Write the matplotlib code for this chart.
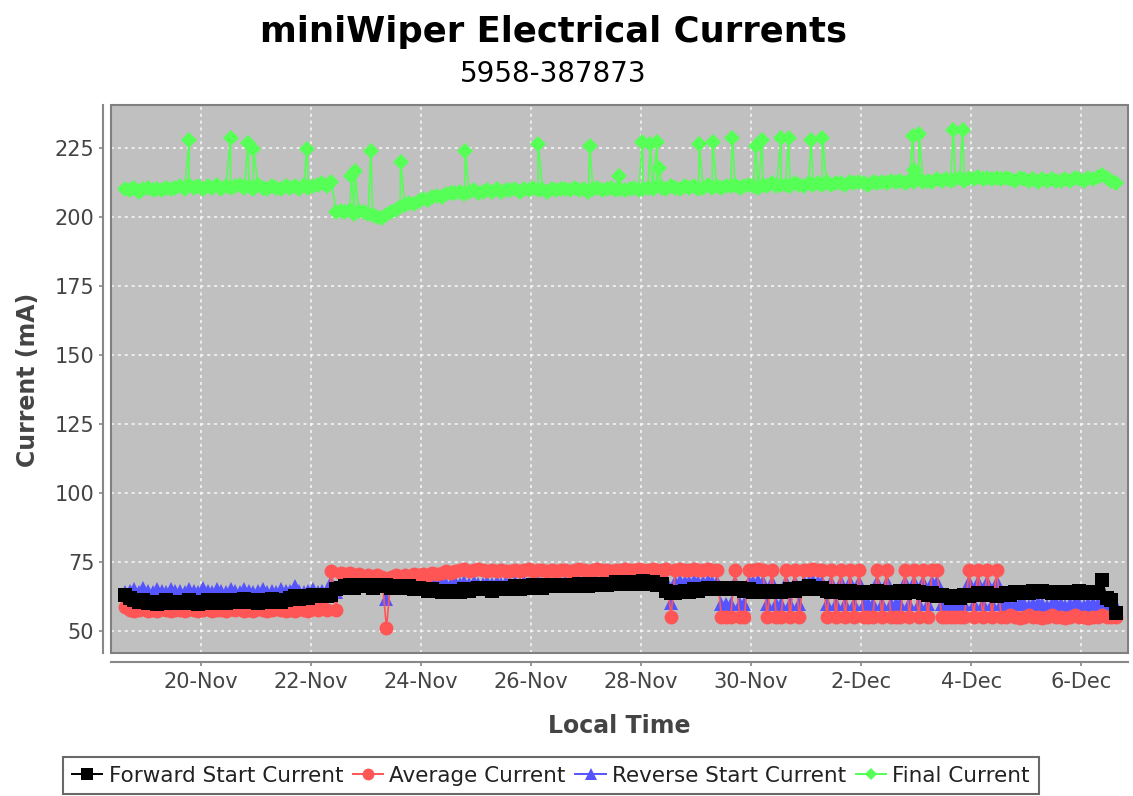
import matplotlib
matplotlib.use("Agg")
import matplotlib.pyplot as plt
from matplotlib.patches import Rectangle
from matplotlib.lines import Line2D
from matplotlib.ticker import FuncFormatter
import matplotlib.dates as mdates
import pandas as pd

# readings every 2 hours from Nov 18 15:00, twelve per row (one day per row)
start = "2019-11-18 15:00"
n_points = 217

forward_start = [
    63, 62, 61, 60.5, 61, 60, 60.5, 59.5, 60, 61, 60, 60.5,
    60.5, 60, 61, 60.5, 59.5, 60.5, 61, 60, 60.5, 61, 60, 60.5,
    61, 60.5, 61.5, 60.5, 61, 60, 61, 60.5, 61.5, 61, 60.5, 61,
    62, 62.5, 61.5, 62.5, 62, 63, 62.5, 63, 62.5, 63, 65, 65.5,
    66, 66.5, 65.5, 66, 66.5, 66, 65.5, 66.5, 66, 66.5, 65.5, 66,
    66, 65.5, 66, 65, 65.5, 65, 64.5, 65, 64.5, 64, 64.5, 64,
    64.5, 64, 65, 64.5, 65, 65.5, 65, 65.5, 64.5, 65, 65.5, 65,
    65.5, 66, 65, 66, 65.5, 66.5, 66, 65.5, 66.5, 66, 66.5, 66,
    66, 66.5, 66, 67, 66.5, 66, 67, 66.5, 67, 66.5, 67, 67.5,
    67, 67.5, 67, 67.5, 67, 68, 67, 67.5, 66.5, 67, 64.5, 63.5,
    63.5, 64, 64.5, 64, 65, 64.5, 65, 65.5, 65, 65.5, 65, 65.5,
    65.5, 65, 65.5, 64.5, 65, 64, 64.5, 64, 64.5, 64, 64.5, 64,
    64.5, 65, 64.5, 65.5, 65, 66, 65.5, 65, 65.5, 64.5, 64, 64.5,
    64, 63.5, 64.5, 64, 63.5, 64, 63.5, 64, 64.5, 63.5, 64, 63.5,
    64, 64.5, 63.5, 64, 64.5, 64, 63.5, 63, 63.5, 62.5, 63, 62.5,
    62, 62.5, 62, 63, 62.5, 63, 63.5, 63, 63.5, 63, 62.5, 63,
    63.5, 63, 64, 63.5, 64, 63.5, 64.5, 64, 64.5, 64, 63.5, 64,
    64, 63.5, 64, 63.5, 64.5, 63.5, 64, 63.5, 64, 68.5, 62, 61,
    56.5,
]

average = [
    58.5, 57.5, 57, 57.5, 58, 57, 57.5, 57, 58, 57.5, 57, 57.5,
    57.5, 57, 58, 57.5, 57, 57.5, 58, 57, 57.5, 57.5, 57, 58,
    57.5, 58, 57, 57.5, 57, 58, 57.5, 57, 57.5, 58, 57.5, 57,
    57.5, 57, 58, 57.5, 57, 58, 57.5, 58.5, 57.5, 71.5, 57.5, 71,
    70.5, 71, 70, 70.5, 69.5, 70, 69.5, 70, 69.5, 51, 69.5, 70,
    69.5, 70, 69.5, 70.5, 70, 70.5, 70, 71, 70.5, 71, 71.5, 71,
    71.5, 72, 72.5, 71.5, 72, 72.5, 72, 71.5, 72, 71.5, 72, 71.5,
    71.5, 72, 71.5, 72, 72.5, 71.5, 72, 72, 71.5, 72, 71.5, 72,
    72, 71.5, 72, 72.5, 72, 71.5, 72, 72.5, 72, 72, 71.5, 72,
    72, 72.5, 72, 72, 72.5, 72, 72, 72.5, 72, 72, 72.5, 55,
    72, 72.5, 72, 72, 72.5, 72, 72, 72.5, 72, 72, 55, 55,
    55, 72, 55, 55, 72, 72, 72.5, 72, 55, 72, 55, 55,
    72, 55, 72, 55, 72, 72, 72.5, 72, 72, 55, 72, 55,
    72, 55, 72, 55, 72, 55, 55, 55, 72, 55, 72, 55,
    55, 55, 72, 55, 72, 55, 72, 55, 72, 72, 55, 55,
    55, 55, 55, 55, 72, 55, 72, 55, 72, 55, 72, 55,
    55, 55.5, 55, 54.5, 55, 55.5, 55, 55, 54.5, 55, 55.5, 55,
    55, 54.5, 55, 55.5, 55, 55, 54.5, 55, 55, 55.5, 55, 55,
    55,
]

reverse_start = [
    64, 64.5, 65, 64, 65.5, 64.5, 64, 65, 64.5, 64, 65, 64.5,
    64.5, 64, 65, 64.5, 64, 65.5, 64.5, 64, 65, 64.5, 64, 65,
    64.5, 64, 65, 64.5, 64, 64.5, 65, 64, 64.5, 64, 65, 64.5,
    64.5, 66, 64.5, 64, 64.5, 65, 64, 64.5, 64, 67.5, 64, 67,
    67, 67.5, 67, 66.5, 67, 67.5, 67, 66.5, 67, 61.5, 67, 67.5,
    67, 67.5, 67, 67.5, 67, 66.5, 67, 67.5, 67, 67.5, 67, 67,
    67.5, 67, 67.5, 67, 67.5, 67, 67, 67.5, 67, 67.5, 67, 67.5,
    67, 67.5, 67, 67.5, 67, 67.5, 67.5, 67, 67.5, 67, 67.5, 67,
    67.5, 67, 67.5, 67.5, 67, 67.5, 67, 67.5, 67.5, 67, 67.5, 67.5,
    67.5, 68, 67.5, 67.5, 68, 67.5, 67.5, 68, 67.5, 67.5, 68, 60,
    67.5, 68, 67.5, 67.5, 68, 67.5, 67.5, 68, 67.5, 67.5, 59.5, 59.5,
    59.5, 67.5, 59.5, 59.5, 67.5, 67.5, 68, 67.5, 59.5, 67.5, 59.5, 59.5,
    67.5, 59.5, 67.5, 59.5, 67.5, 67.5, 68, 67.5, 67.5, 59.5, 67.5, 59.5,
    67.5, 59.5, 67.5, 59.5, 67.5, 59.5, 59.5, 59.5, 67.5, 59.5, 67.5, 59.5,
    59.5, 59.5, 67.5, 59.5, 67.5, 59.5, 67.5, 59.5, 67.5, 67.5, 59.5, 59.5,
    59.5, 59.5, 59.5, 59.5, 67.5, 59.5, 67.5, 59.5, 67.5, 59.5, 67.5, 59.5,
    59.5, 59, 59.5, 60, 59.5, 59, 59.5, 60, 59.5, 59, 59.5, 60,
    59.5, 59, 59.5, 60, 59.5, 59, 59.5, 60, 59.5, 59.5, 59, 59.5,
    59,
]

final_base = [
    210, 209.5, 210.5, 209, 210, 210.5, 209.5, 210, 209.5, 210.5, 210, 210.5,
    211, 210, 211.5, 210.5, 211, 210, 211, 210.5, 211.5, 210, 211, 210.5,
    211, 211.5, 210.5, 211, 210, 211.5, 210.5, 210, 211, 210.5, 210, 211,
    210.5, 211, 210, 211.5, 210.5, 211, 211.5, 212, 211, 212.5, 201.5, 202,
    201.5, 202.5, 201, 202, 201.5, 201, 200.5, 200, 199.5, 200.5, 201.5, 202.5,
    203.5, 204, 205, 204.5, 205.5, 206.5, 206, 207, 207.5, 207, 208, 208.5,
    208.5, 209, 208, 209, 209.5, 208.5, 209, 209.5, 209, 210, 209, 209.5,
    209.5, 210, 209, 210, 209.5, 210.5, 209.5, 210, 209, 210, 209.5, 210,
    210, 209.5, 210.5, 209.5, 210, 209, 210, 210.5, 209.5, 210, 210.5, 209.5,
    210, 209.5, 210, 210.5, 209.5, 210, 210.5, 210, 211, 210.5, 210, 211,
    210.5, 210, 211, 210.5, 211, 210, 210.5, 211.5, 210.5, 211, 210.5, 211,
    211, 211.5, 210.5, 211, 211.5, 211, 210.5, 211.5, 211, 212, 211, 211.5,
    211.5, 211, 212, 211.5, 211, 212, 211.5, 212, 211.5, 212.5, 211.5, 212,
    212, 211.5, 212.5, 212, 212.5, 212, 211.5, 212.5, 212, 212.5, 212, 213,
    212.5, 213, 212, 213, 212.5, 213.5, 212.5, 213, 212.5, 213.5, 213, 213.5,
    213, 213.5, 214, 213, 214, 213.5, 214.5, 213.5, 214, 213.5, 214, 213.5,
    214, 213.5, 213, 214, 213.5, 213, 213.5, 212.5, 213.5, 213, 213.5, 213,
    213, 213.5, 213, 214, 213.5, 213, 214, 213.5, 214.5, 215, 214, 213,
    212,
]

# short excursions of the final current between the regular readings
final_spike_times = [
    "2019-11-19 19:00", "2019-11-20 13:00", "2019-11-20 20:40", "2019-11-20 23:00",
    "2019-11-21 22:20", "2019-11-22 17:45", "2019-11-22 19:10", "2019-11-23 02:10",
    "2019-11-23 15:10", "2019-11-24 19:25", "2019-11-26 03:10", "2019-11-27 01:40",
    "2019-11-27 14:10", "2019-11-28 00:30", "2019-11-28 04:05", "2019-11-28 07:00",
    "2019-11-28 07:55", "2019-11-29 01:25", "2019-11-29 07:10", "2019-11-29 15:50",
    "2019-11-30 01:55", "2019-11-30 04:50", "2019-11-30 13:00", "2019-11-30 16:20",
    "2019-12-01 02:10", "2019-12-01 07:00", "2019-12-02 22:20", "2019-12-02 23:00",
    "2019-12-03 01:10", "2019-12-03 16:05", "2019-12-03 20:10",
]
final_spike_values = [
    227.6, 228.5, 226.7, 224.5,
    224.5, 214.6, 216.4, 223.7,
    219.7, 223.9, 226.3, 225.5,
    214.6, 226.9, 226.4, 226.9,
    217.6, 226.3, 226.9, 228.3,
    225.5, 227.6, 228.5, 228.5,
    227.6, 228.5, 229.3, 217,
    230, 231.5, 231.3,
]

tick_dates = pd.date_range("2019-11-20", "2019-12-06", freq="2D")
y_ticks = [50, 75, 100, 125, 150, 175, 200, 225]

times = pd.date_range(start, periods=n_points, freq="2h")
final = pd.concat([
    pd.Series(final_base, index=times),
    pd.Series(final_spike_values, index=pd.to_datetime(final_spike_times)),
]).sort_index()

plt.rcParams["font.family"] = ["DejaVu Sans"]

fig = plt.figure(figsize=(11.33, 7.96), dpi=100)
ax = fig.add_axes([111 / 1133, 1 - 653 / 796, 1017 / 1133, 548 / 796])
ax.set_facecolor("#c0c0c0")

ax.plot(times, reverse_start, color="#5555ff", lw=1.2, marker="^", ms=10,
        mew=0, zorder=3)
ax.plot(times, average, color="#ff5555", lw=1.2, marker="o", ms=10,
        mew=0, zorder=4)
ax.plot(times, forward_start, color="black", lw=1.2, marker="s", ms=9.5,
        mew=0, zorder=5)
ax.plot(final.index, final.values, color="#55ff55", lw=1.2, marker="D", ms=8.5,
        mew=0, zorder=3)

ax.set_xlim(pd.Timestamp("2019-11-18 08:54"), pd.Timestamp("2019-12-06 20:17"))
ax.set_ylim(41.9, 240.4)
ax.set_xticks(tick_dates)
ax.xaxis.set_major_formatter(
    FuncFormatter(lambda v, p: f"{mdates.num2date(v).day}-{mdates.num2date(v):%b}"))
ax.set_yticks(y_ticks)

ax.grid(True, color="white", lw=1.1, linestyle=(0, (2, 2.5)), alpha=0.9)
ax.set_axisbelow(True)

for side in ["top", "right"]:
    ax.spines[side].set_visible(False)
ax.spines["left"].set_position(("outward", 6))
ax.spines["bottom"].set_position(("outward", 6.5))
for side in ["left", "bottom"]:
    ax.spines[side].set_color("#888888")
    ax.spines[side].set_linewidth(1.5)
ax.tick_params(colors="#888888", length=3, width=1.2, labelsize=15,
               labelcolor="#444444")
ax.tick_params(axis="y", pad=3)
ax.tick_params(axis="x", pad=4)

ax.add_patch(Rectangle((0, 0), 1, 1, transform=ax.transAxes, fill=False,
                       ec="#808080", lw=1.5, zorder=10, clip_on=False))

fig.text(553 / 1133, 1 - 42 / 796, "miniWiper Electrical Currents",
         ha="center", va="baseline", fontsize=25.5, fontweight="bold")
fig.text(553 / 1133, 1 - 82 / 796, "5958-387873", ha="center", va="baseline",
         fontsize=20)
fig.text(619 / 1133, 1 - 733 / 796, "Local Time", ha="center", va="baseline",
         fontsize=17, fontweight="bold", color="#444444")
fig.text(28 / 1133, 1 - 380 / 796, "Current (mA)", ha="center", va="center",
         rotation=90, fontsize=17, fontweight="bold", color="#444444")

handles = [
    Line2D([], [], color="black", lw=1.4, marker="s", ms=8, mew=0),
    Line2D([], [], color="#ff5555", lw=1.4, marker="o", ms=8.5, mew=0),
    Line2D([], [], color="#5555ff", lw=1.4, marker="^", ms=8.5, mew=0),
    Line2D([], [], color="#55ff55", lw=1.4, marker="D", ms=6.5, mew=0),
]
labels = ["Forward Start Current", "Average Current", "Reverse Start Current",
          "Final Current"]
leg = fig.legend(handles, labels, loc="upper center", ncol=4,
                 bbox_to_anchor=(551 / 1133, 1 - 757 / 796),
                 bbox_transform=fig.transFigure, borderaxespad=0,
                 fontsize=15.5, frameon=True, fancybox=False,
                 handlelength=1.4, handletextpad=0.3, columnspacing=0.45,
                 borderpad=0.4)
leg.get_frame().set_edgecolor("#444444")
leg.get_frame().set_linewidth(1.5)
for t in leg.get_texts():
    t.set_color("#222222")

fig.savefig("out.png", dpi=100)
